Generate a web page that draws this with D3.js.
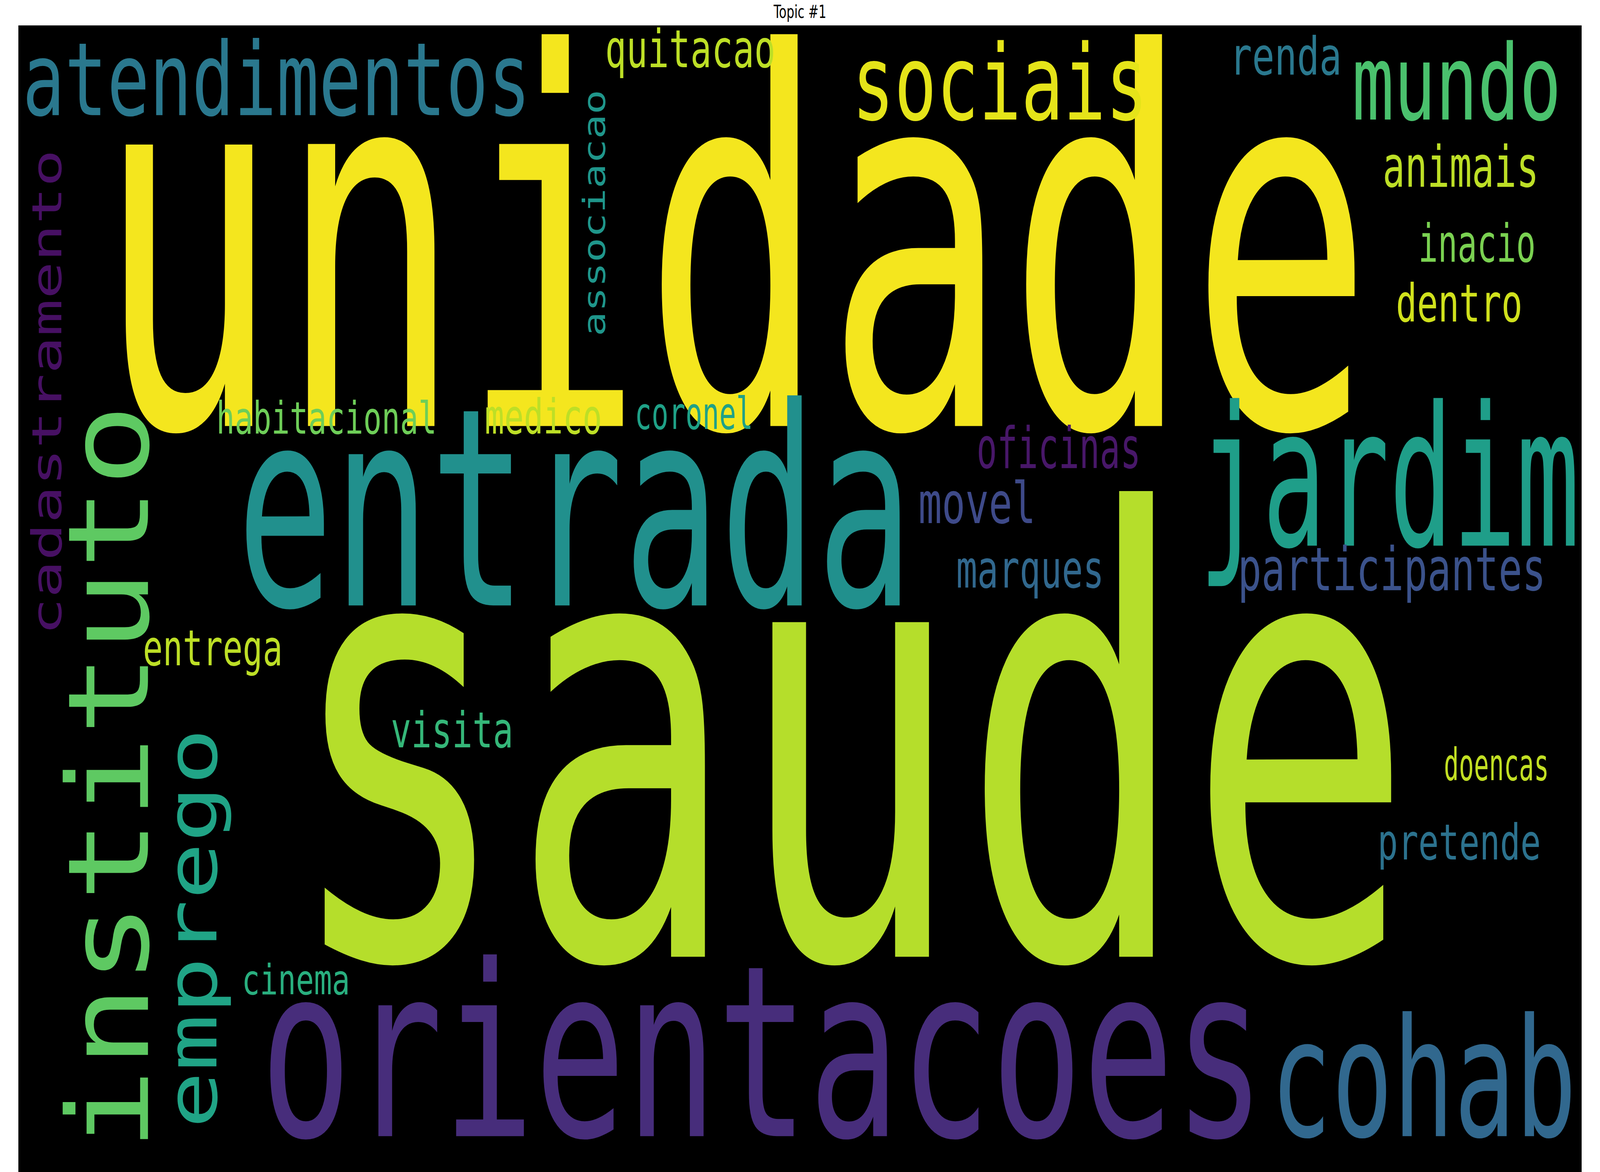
<!DOCTYPE html>
<html><head><meta charset="utf-8">
<script src="https://cdn.jsdelivr.net/npm/d3@7"></script>
<style>html,body{margin:0;padding:0;background:#fff;overflow:hidden}svg{display:block;width:100vw;height:100vh}</style></head>
<body><svg id="c" viewBox="0 0 6000 3000" preserveAspectRatio="none"></svg>
<script>
// reference-space units (1568 x 784 grid)
const words    = ["unidade","saude","entrada","orientacoes","jardim","cohab","atendimentos","sociais","mundo","quitacao","renda","animais","inacio","dentro","oficinas","movel","participantes","marques","habitacional","medico","coronel","entrega","visita","doencas","pretende","cinema","instituto","emprego","cadastramento","associacao"];
const weights  = [345,410,185,160,130,110,68,70,70,35,35,38,35,35,38,38,40,35,30,32,30,33,33,30,33,28,110,68,40,30];
const colors   = ["#f4e61e","#b5de2b","#21908d","#472d7b","#1f9e89","#31688e","#2a788e","#e5e419","#4ac16d","#bddf26","#2a788e","#bddf26","#7ad151","#d0e11c","#481769","#3e4a89","#3b528b","#31688e","#6ece58","#bddf26","#1fa187","#bddf26","#35b779","#c2df23","#2c728e","#29af7f","#5ec962","#20a486","#471063","#1f968b"];
const startPos = [95,280,232,255,1175,1245,22,835,1325,593,1205,1355,1390,1368,957,900,1213,937,212,475,622,140,383,1415,1350,237,770,755,425,225];
const endPos   = [1345,1385,895,1240,1548,1545,520,1125,1530,760,1315,1508,1505,1492,1118,1015,1515,1082,428,590,738,277,503,1518,1510,343,270,487,100,60];
const baseline = [285,640,405,760,365,760,77,80,80,45,50,125,175,215,313,350,395,393,290,290,287,445,500,522,575,665,145,212,60,593];
const vertical = [0,0,0,0,0,0,0,0,0,0,0,0,0,0,0,0,0,0,0,0,0,0,0,0,0,0,1,1,1,1];
const title = "Topic #1";

const W=6000,H=3000;
const sx=d3.scaleLinear().domain([0,1568]).range([0,W]);
const sy=d3.scaleLinear().domain([0,784]).range([0,H]);
const svg=d3.select("#c");
svg.append("rect").attr("x",sx(18)).attr("y",sy(17)).attr("width",sx(1550)-sx(18)).attr("height",sy(784)-sy(17)).attr("fill","#000");
svg.append("text").attr("x",sx(784)).attr("y",sy(12)).attr("text-anchor","middle")
  .attr("font-family","DejaVu Sans").attr("font-size",sy(12)).text(title);
const font="'DejaVu Sans Mono', 'Open Sans', sans-serif";
words.forEach((w,i)=>{
  const len=Math.abs(endPos[i]-startPos[i]);
  const t=svg.append("text").text(w).attr("fill",colors[i])
    .attr("font-family",font).attr("font-size",sy(weights[i]))
    .attr("textLength",sx(len)).attr("lengthAdjust","spacingAndGlyphs");
  if(vertical[i]){
    t.attr("transform",`translate(${sx(baseline[i])},${sy(startPos[i])}) rotate(-90)`);
  } else {
    t.attr("x",sx(startPos[i])).attr("y",sy(baseline[i]));
  }
});
</script></body></html>
